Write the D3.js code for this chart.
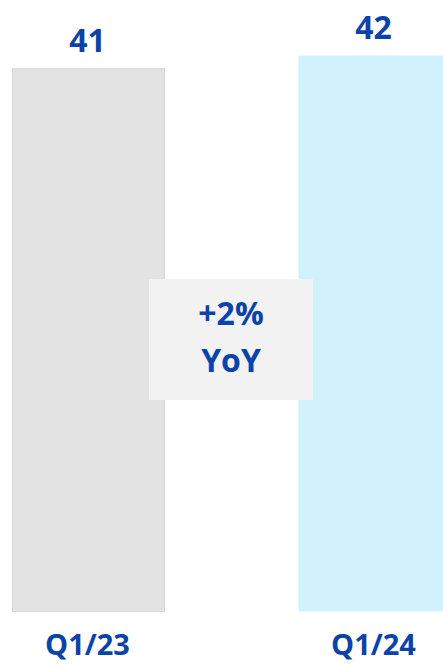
<!DOCTYPE html>
<html><head><meta charset="utf-8">
<script src="https://cdn.jsdelivr.net/npm/d3@7"></script>
<style>html,body{margin:0;padding:0;overflow:hidden;background:#fff}</style>
</head><body>
<script>
const categories = ["Q1/23", "Q1/24"];
const values = [41, 42];
const valueLabels = ["41", "42"];
const changeLabel = ["+2%", "YoY"];

const W = 443, H = 664;
const blue = "#0b43a8";
const font = "'Open Sans', sans-serif";
const svg = d3.select("body").append("svg").attr("width", W).attr("height", H);

const x = d3.scaleBand().domain(categories).range([12, 451]).paddingInner(0.465).paddingOuter(0);
const y = d3.scaleLinear().domain([0, 42]).range([612, 55]);

const fills = ["#e3e3e3", "#d1f1fd"];
const strokes = ["#d6d6d6", "none"];

svg.selectAll("rect.bar").data(values).join("rect")
  .attr("class", "bar")
  .attr("x", (d, i) => x(categories[i]) + 0.5)
  .attr("y", d => y(d) + 0.5)
  .attr("width", x.bandwidth() - 1)
  .attr("height", d => y(0) - y(d) - 1)
  .attr("fill", (d, i) => fills[i])
  .attr("stroke", (d, i) => strokes[i]);

svg.selectAll("text.val").data(values).join("text")
  .attr("class", "val")
  .attr("x", (d, i) => x(categories[i]) + x.bandwidth() / 2 - 1)
  .attr("y", d => y(d) - 16)
  .attr("text-anchor", "middle")
  .attr("font-family", font).attr("font-weight", 700).attr("font-size", 32)
  .attr("fill", blue)
  .text((d, i) => valueLabels[i]);

svg.selectAll("text.cat").data(categories).join("text")
  .attr("class", "cat")
  .attr("x", d => x(d) + x.bandwidth() / 2 - 1)
  .attr("y", 655)
  .attr("text-anchor", "middle")
  .attr("font-family", font).attr("font-weight", 700).attr("font-size", 29)
  .attr("fill", blue)
  .text(d => d);

// YoY box between bars
const bx0 = x(categories[0]) + x.bandwidth() - 16;
const bx1 = x(categories[1]) + 15;
svg.append("rect")
  .attr("x", bx0).attr("y", 279)
  .attr("width", bx1 - bx0).attr("height", 121)
  .attr("fill", "#f2f2f2");
svg.selectAll("text.chg").data(changeLabel).join("text")
  .attr("class", "chg")
  .attr("x", (bx0 + bx1) / 2)
  .attr("y", (d, i) => 325 + i * 47)
  .attr("text-anchor", "middle")
  .attr("font-family", font).attr("font-weight", 700).attr("font-size", 32)
  .attr("fill", blue)
  .text(d => d);
</script>
</body></html>
